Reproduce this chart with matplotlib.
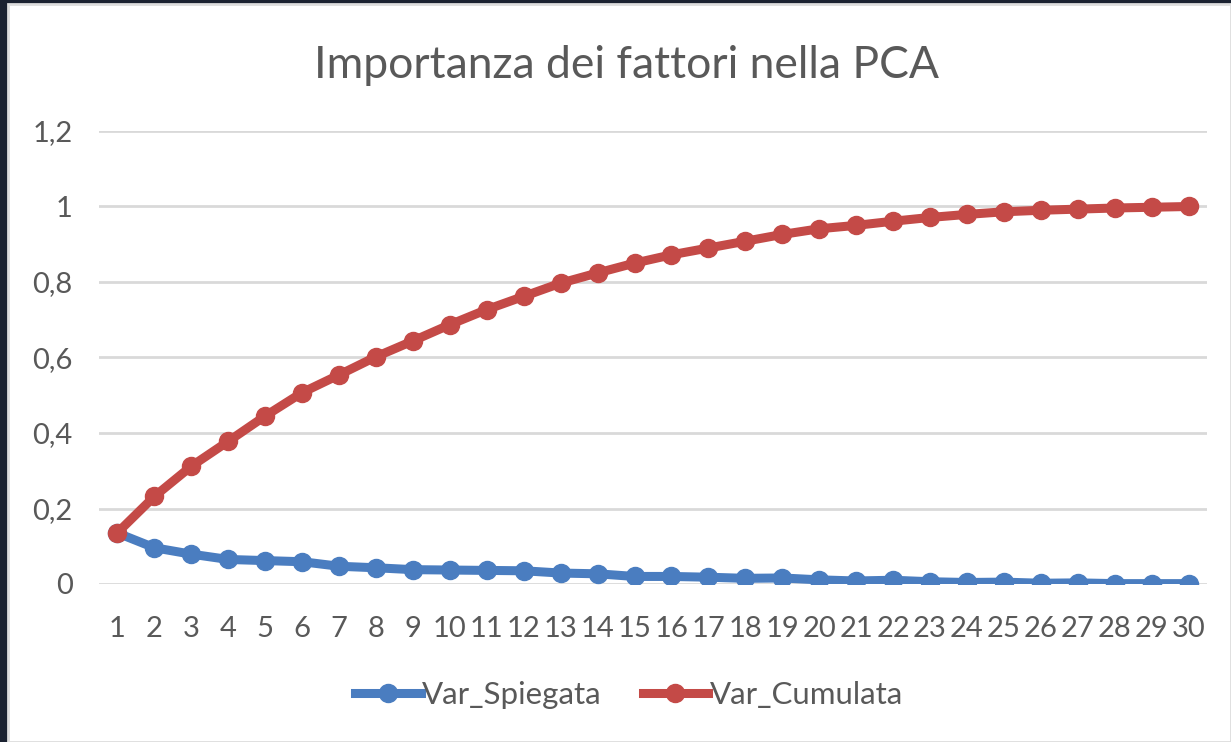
import matplotlib
matplotlib.use("Agg")
import matplotlib.pyplot as plt
from matplotlib.patches import Rectangle
from matplotlib.ticker import FuncFormatter

# Dati
fattori = list(range(1, 31))
var_spiegata = [0.135, 0.096, 0.079, 0.065, 0.062, 0.059, 0.047, 0.043, 0.038, 0.037,
                0.036, 0.035, 0.029, 0.027, 0.020, 0.020, 0.018, 0.015, 0.016, 0.011,
                0.008, 0.010, 0.006, 0.004, 0.005, 0.002, 0.003, 0.001, 0.001, 0.001]
var_cumulata = [0.136, 0.232, 0.312, 0.378, 0.445, 0.507, 0.554, 0.602, 0.644, 0.687,
                0.727, 0.762, 0.797, 0.824, 0.850, 0.872, 0.890, 0.908, 0.926, 0.941,
                0.950, 0.961, 0.971, 0.979, 0.986, 0.990, 0.993, 0.996, 0.998, 1.000]
y_ticks = [0, 0.2, 0.4, 0.6, 0.8, 1.0, 1.2]

BLUE = '#4A7DC0'
RED = '#C44A47'
TEXT = '#595959'
GRID = '#D9D9D9'

plt.rcParams['font.family'] = ['Lato', 'DejaVu Sans']

fig = plt.figure(figsize=(12.31, 7.42), dpi=100)
fig.patch.set_facecolor('#1B2231')
fig.patches.append(Rectangle((8 / 1231, 0), 1 - 8 / 1231, 1 - 4 / 742,
                             transform=fig.transFigure, facecolor='white',
                             edgecolor='#DDDDDD', linewidth=2, zorder=-10))

ax = fig.add_axes([99 / 1231, 158 / 742, 1108 / 1231, 453 / 742])
ax.set_facecolor('none')

ax.plot(fattori, var_spiegata, color=BLUE, lw=6.5, marker='o', ms=13,
        label='Var_Spiegata', zorder=3)
ax.plot(fattori, var_cumulata, color=RED, lw=6.5, marker='o', ms=13,
        label='Var_Cumulata', zorder=4)

ax.set_xlim(0.5, 30.5)
ax.set_ylim(0, 1.2)
ax.set_xticks(fattori)
ax.set_yticks(y_ticks)
ax.yaxis.set_major_formatter(FuncFormatter(lambda v, p: f"{v:g}".replace('.', ',')))
ax.tick_params(length=0, labelsize=21, colors=TEXT)
ax.tick_params(axis='x', pad=23)
ax.tick_params(axis='y', pad=19)
ax.grid(axis='y', color=GRID, lw=2)
ax.set_axisbelow(True)
for s in ax.spines.values():
    s.set_visible(False)

fig.text(0.509, 0.912, 'Importanza dei fattori nella PCA', ha='center', va='center',
         fontsize=32, color=TEXT)

fig.legend(loc='center', bbox_to_anchor=(0.511, 0.064), ncol=2, frameon=False,
           fontsize=22.5, labelcolor=TEXT, handlelength=2.1, handletextpad=0.05,
           columnspacing=1.3)

fig.savefig('out.png', dpi=100, facecolor=fig.get_facecolor())
